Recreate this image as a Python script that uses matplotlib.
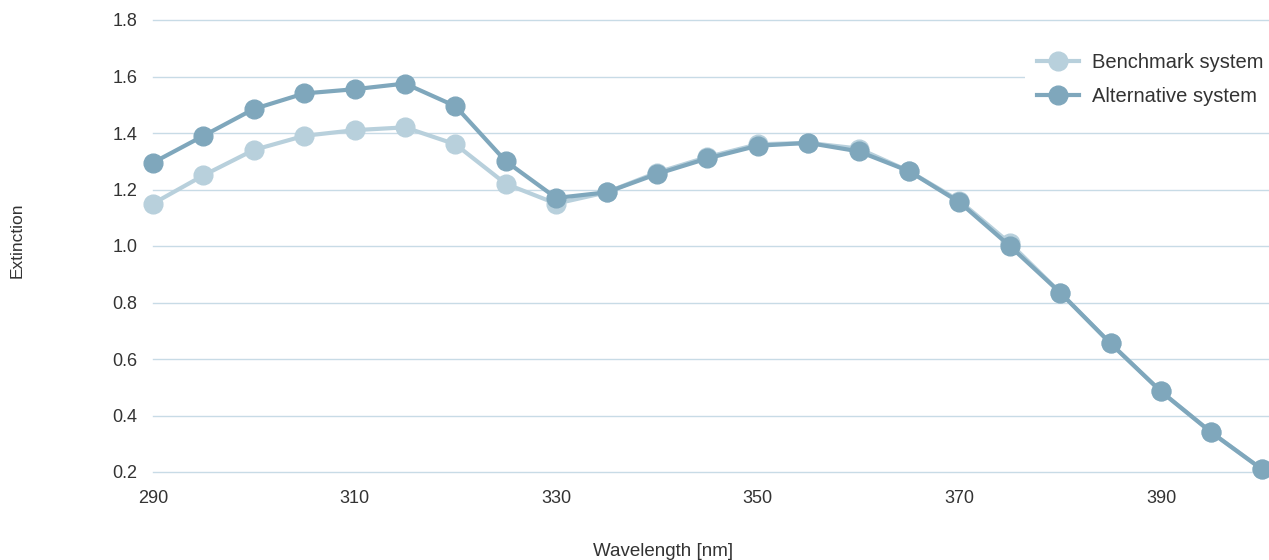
import numpy as np
import matplotlib.pyplot as plt

plt.rcParams['font.family'] = ['Liberation Sans', 'DejaVu Sans']

wavelength = [290, 295, 300, 305, 310, 315, 320, 325, 330, 335, 340, 345,
              350, 355, 360, 365, 370, 375, 380, 385, 390, 395, 400]
benchmark = [1.15, 1.25, 1.34, 1.39, 1.41, 1.42, 1.36, 1.22, 1.15, 1.19,
             1.26, 1.315, 1.36, 1.365, 1.345, 1.265, 1.16, 1.01, 0.835,
             0.655, 0.485, 0.34, 0.21]
alternative = [1.295, 1.39, 1.485, 1.54, 1.555, 1.575, 1.495, 1.30, 1.17,
               1.19, 1.255, 1.31, 1.355, 1.365, 1.335, 1.265, 1.155, 1.0,
               0.835, 0.655, 0.485, 0.34, 0.21]
series_names = ['Benchmark system', 'Alternative system']
xticks = [290, 310, 330, 350, 370, 390]
yticks = [0.2, 0.4, 0.6, 0.8, 1.0, 1.2, 1.4, 1.6, 1.8]

c_bench = '#b8d0dc'
c_alt = '#7fa7bc'
txt = '#333333'

fig = plt.figure(figsize=(12.69, 5.6), dpi=100)
left = 153 / 1269
bottom = 1 - 472 / 560
ax = fig.add_axes([left, bottom, 1 - left, (472 - 20) / 560])

for vals, col, name in [(benchmark, c_bench, series_names[0]),
                        (alternative, c_alt, series_names[1])]:
    ax.plot(wavelength, vals, color=col, lw=3, marker='o', markersize=13.5,
            label=name, clip_on=False, zorder=3)

ax.set_xlim(290, 290 + (1269 - 153) / 10.08)
ax.set_ylim(0.2, 1.8)
ax.set_xticks(xticks)
ax.set_yticks(yticks)
ax.set_yticklabels([f'{v:.1f}' for v in yticks])
ax.grid(axis='y', color='#c8dbe6', lw=1)
for gl in ax.get_ygridlines():
    gl.set_clip_on(False)
ax.set_axisbelow(True)
for s in ax.spines.values():
    s.set_visible(False)
ax.tick_params(length=0, labelsize=13, colors=txt)
ax.tick_params(axis='y', pad=11)
ax.tick_params(axis='x', pad=13)

fig.text(17 / 1269, 1 - 240 / 560, 'Extinction', rotation=90,
         ha='center', va='center', fontsize=12.5, color=txt)
fig.text(663 / 1269, 1 - 552 / 560, 'Wavelength [nm]', ha='center',
         va='center', fontsize=13.5, color=txt)

leg = ax.legend(loc='upper left', bbox_to_anchor=((1025 - 153) / 1116, 0.953),
                frameon=True, fontsize=14.5, handlelength=2.1,
                handletextpad=0.65, labelspacing=0.75, borderpad=0.6,
                borderaxespad=0)
leg.get_frame().set_edgecolor('none')
leg.get_frame().set_facecolor('white')
leg.get_frame().set_alpha(1)
leg.get_frame().set_boxstyle('square', pad=0)
for t in leg.get_texts():
    t.set_color(txt)

fig.savefig('out.png', dpi=100)
